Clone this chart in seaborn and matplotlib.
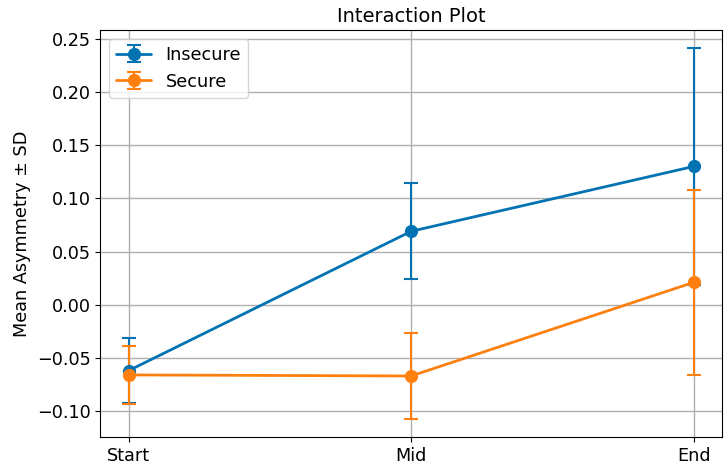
import numpy as np
import pandas as pd
import matplotlib
matplotlib.use("Agg")
import matplotlib.pyplot as plt
import seaborn as sns

# 时间点与分组
time_points = ['Start', 'Mid', 'End']
groups = ['Insecure', 'Secure']

# 各组均值与标准差
insecure_mean = [-0.062, 0.069, 0.130]
insecure_sd = [0.0305, 0.045, 0.111]
secure_mean = [-0.066, -0.067, 0.021]
secure_sd = [0.027, 0.040, 0.087]

colors = {'Insecure': '#0173b2', 'Secure': '#ff800e'}

df = pd.DataFrame({
    'Time': time_points * 2,
    'Group': ['Insecure'] * 3 + ['Secure'] * 3,
    'Mean': insecure_mean + secure_mean,
    'SD': insecure_sd + secure_sd,
})

sns.set_style("ticks")
plt.rcParams.update({
    'font.family': 'sans-serif',
    'font.sans-serif': ['DejaVu Sans'],
    'font.size': 12.7,
    'axes.edgecolor': 'black',
    'xtick.color': 'black',
    'ytick.color': 'black',
    'text.color': 'black',
    'axes.labelcolor': 'black',
})

fig, ax = plt.subplots(figsize=(7.27, 4.74), dpi=100)
fig.subplots_adjust(left=0.138, right=0.993, top=0.937, bottom=0.078)

x_pos = np.arange(len(time_points))
for g in groups:
    sub = df[df['Group'] == g]
    ax.errorbar(x_pos, sub['Mean'], yerr=sub['SD'], fmt='-o', color=colors[g],
                lw=2, ms=8.5, capsize=5, capthick=1.5, elinewidth=1.5, label=g)

ax.set_xticks(x_pos)
ax.set_xticklabels(time_points)
ax.set_title('Interaction Plot', fontsize=14)
ax.set_ylabel('Mean Asymmetry ± SD')
ax.set_xlabel('')
ax.grid(True, color='#b0b0b0', lw=1)
ax.set_axisbelow(True)
ax.legend(loc='upper left', fontsize=12.7)

plt.savefig('out.png', dpi=100)
